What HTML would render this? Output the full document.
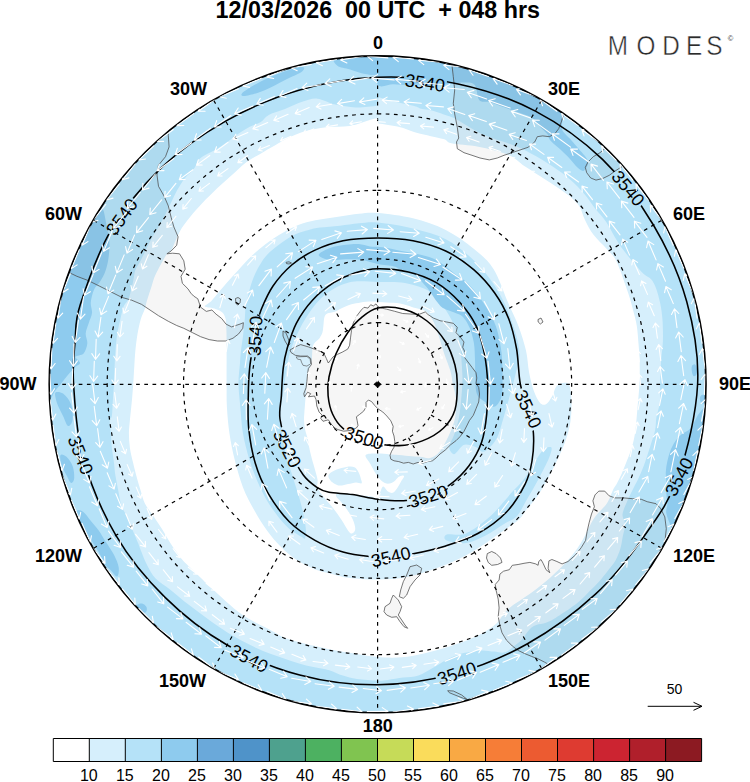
<!DOCTYPE html>
<html lang="en"><head><meta charset="utf-8"><title>MODES 12/03/2026 00 UTC + 048 hrs</title>
<style>html,body{margin:0;padding:0;background:#fff}svg{display:block}</style></head>
<body>
<svg width="750" height="782" viewBox="0 0 750 782" font-family="'Liberation Sans', sans-serif">
<rect width="750" height="782" fill="#fff"/>
<defs><clipPath id="disc"><circle cx="377.6" cy="384.3" r="328"/></clipPath></defs>
<g clip-path="url(#disc)">
<path d="M378.5 123.6C382.1 124.2 393.6 125.7 400.1 127.3C406.6 128.8 410.2 131 417.4 132.9C424.6 134.9 437.7 137.2 443.3 139C449 140.7 445.4 142 451.3 143.3C457.1 144.6 469 144.9 478.4 146.8C487.9 148.7 500.3 151.5 508 154.8C515.7 158 518.3 162 524.7 166.3C531.1 170.5 539.6 175.8 546.4 180.3C553.2 184.7 560.1 189 565.4 193.1C570.8 197.3 575.4 200.7 578.7 205.2C581.9 209.6 582.5 215 585 219.9C587.4 224.9 589.9 230 593.5 234.8C597.1 239.6 602.8 244.6 606.3 248.5C609.9 252.4 612.4 254.4 614.8 258.2C617.1 262 618.9 267.1 620.5 271C622.1 275 622.8 277.7 624.3 282.1C625.8 286.5 628.1 292.7 629.6 297.5C631.1 302.3 632.1 306.3 633.3 311C634.5 315.7 635.9 320.2 636.8 325.9C637.7 331.5 638.1 338.7 638.6 344.8C639.1 351 639.6 356.2 639.7 362.8C639.8 369.3 639.8 376.2 639.4 384.3C639 392.4 637.9 403.2 637.2 411.1C636.5 419.1 636.1 426.2 635.2 432C634.4 437.9 633.5 441.6 632.1 446.4C630.8 451.1 628.7 456.1 627 460.6C625.3 465 623.6 469.4 621.9 473.2C620.2 477 618.3 480.7 616.9 483.4C615.4 486.1 615 485.9 613.3 489.2C611.6 492.6 610 498.8 606.8 503.6C603.6 508.5 598 512.2 593.9 518.4C589.8 524.7 586 534.5 582 541.1C578 547.7 575.1 552.1 569.9 558.1C564.7 564.1 557.1 571.5 550.7 577.2C544.3 583 538.8 587.2 531.7 592.6C524.6 597.9 513.8 604.1 508 609.2C502.2 614.4 500.9 619.3 496.7 623.2C492.6 627.2 487.5 630.2 483.1 632.8C478.7 635.5 476.1 636.6 470.3 639C464.4 641.3 455.5 644.7 448 647C440.5 649.4 432.8 651.4 425 653.2C417.3 654.9 409.4 656.6 401.5 657.3C393.6 657.9 386.3 657.7 377.6 657C368.9 656.3 357.6 654.1 349.4 652.8C341.1 651.5 338 651.3 328 649.1C318.1 646.9 299.3 642.8 289.7 639.6C280.1 636.4 278.3 634.1 270.3 629.9C262.3 625.7 251.2 621.1 241.6 614.3C232 607.5 220.1 595.8 212.8 589.3C205.5 582.7 202.8 579.7 197.9 575C193 570.3 186.9 564.7 183.4 561C180 557.2 179.5 556.2 177 552.6C174.4 549.1 170.8 543.7 168.3 539.7C165.8 535.8 164.5 533.1 162 529.1C159.6 525.2 156.3 520.6 153.5 516.3C150.6 512 147 507.6 144.9 503.4C142.8 499.1 142.1 495.3 140.7 490.8C139.3 486.2 137.7 480.6 136.4 475.9C135.1 471.3 134.2 467.5 133.1 462.8C132 458.1 130.6 452.8 129.9 447.9C129.2 442.9 128.9 437.9 128.9 433.1C129 428.3 129.5 424.9 130 419.1C130.6 413.3 131.6 404.3 132.1 398.5C132.6 392.7 132.8 389.6 133.2 384.3C133.6 379 133.9 371.9 134.3 366.4C134.6 361 134.8 356.9 135.3 351.5C135.8 346.2 136.6 339.5 137.5 334.1C138.4 328.8 139.5 323.7 140.7 319.5C141.9 315.3 143.8 311.9 144.9 308.7C145.9 305.5 145.9 303.9 147 300.4C148.1 296.8 149.9 291.6 151.3 287.3C152.7 283 153.2 279.8 155.6 274.6C158 269.4 163 260 165.6 255.9C168.3 251.9 169.6 253 171.3 250.3C173 247.6 174.1 243.6 175.9 239.9C177.6 236.2 179.4 231.9 181.8 228C184.3 224.1 187.1 220.5 190.5 216.4C193.9 212.3 197.8 208 202.2 203.3C206.6 198.7 212 193.3 216.9 188.6C221.7 184 226.5 179.9 231.4 175.5C236.3 171.1 241.3 165.9 246.3 162.2C251.2 158.5 256.2 156.2 261 153.4C265.7 150.6 270.3 148.1 274.8 145.5C279.3 143 282.9 140.5 288 138.1C293 135.7 298.7 133 305 131.2C311.4 129.4 318.8 128 326.2 127.2C333.6 126.3 342.7 127.1 349.5 126C356.4 124.9 363 122 367.5 120.7C372 119.4 375.1 118.7 376.7 118.3ZM377.6 50.3A334 334 0 1 0 377.6 718.3A334 334 0 1 0 377.6 50.3Z" fill="#d6effc" fill-rule="evenodd"/>
<path d="M378.6 97.2C381.2 97.9 388 100.1 393.9 101.6C399.8 103 409.7 104.8 414.2 106C418.8 107.2 418.3 108 421.2 108.7C424.2 109.5 427.1 109.2 431.8 110.4C436.5 111.7 445 114.6 449.4 116.3C453.8 117.9 452.6 117.3 458.3 120.4C464 123.5 474.3 130.7 483.5 134.8C492.7 139 505.4 142 513.4 145.2C521.4 148.3 524.9 150.1 531.4 153.7C538 157.2 546.3 162.2 552.7 166.5C559.2 170.8 564.6 174.8 570 179.5C575.3 184.1 580.5 189.5 584.8 194.5C589 199.4 591.9 204.5 595.5 209.1C599.1 213.7 602.9 217.2 606.2 221.9C609.4 226.5 612.1 232.5 614.9 237.2C617.7 241.8 619.9 245.3 623.2 249.8C626.6 254.4 631.6 260.2 635 264.3C638.4 268.3 641 271.6 643.7 274.1C646.4 276.6 649.1 276.9 651.1 279.3C653.2 281.7 654.5 284.4 656.1 288.4C657.6 292.4 659.1 298 660.2 303.3C661.3 308.5 662 313.8 662.5 320.1C662.9 326.4 663.1 334.3 662.9 341.2C662.6 348 661.6 353.8 661.1 361C660.7 368.2 660.2 377.4 660 384.3C659.8 391.2 660.4 397 659.8 402.5C659.2 408.1 657.2 412.9 656.4 417.5C655.6 422.2 656.1 425.7 655.1 430.2C654.2 434.8 651.9 440.7 650.7 444.8C649.4 449 648.6 451.6 647.5 455.1C646.3 458.6 645.4 461.6 643.8 465.7C642.2 469.8 639.8 475.6 637.9 479.6C636.1 483.5 634.5 485.9 632.8 489.5C631 493 629.1 496.6 627.4 500.8C625.7 504.9 622.9 510.6 622.5 514.5C622.2 518.5 625.1 520.7 625.1 524.3C625.2 528 623.6 532.4 622.8 536.3C622 540.3 621.7 544.1 620.5 548.1C619.3 552.2 617.6 556.7 615.5 560.4C613.5 564 611.2 566.3 608.4 569.9C605.6 573.5 601.9 578.4 598.7 582C595.5 585.6 592.4 588.4 589.2 591.5C586.1 594.7 582.9 598.2 579.7 601C576.5 603.8 573 606.2 570.2 608.2C567.4 610.2 565.3 611.5 562.9 613.1C560.4 614.7 558.4 616.3 555.6 617.9C552.7 619.6 549.1 621.6 545.9 622.8C542.7 624 539.1 623.9 536.4 625.1C533.6 626.2 531.6 627.4 529.3 629.8C526.9 632.2 524.3 636.9 522 639.5C519.6 642.1 518 643.1 515.2 645.3C512.3 647.4 508.3 651.3 504.9 652.3C501.4 653.4 498.1 651.9 494.4 651.6C490.6 651.3 486.5 650.4 482.4 650.4C478.3 650.4 473.5 651.3 469.7 651.9C466 652.5 464 652.6 460 654C456.1 655.3 450.9 657.5 446.3 659.9C441.8 662.2 437.4 665.4 432.7 668C428.1 670.6 423.4 673.8 418.5 675.4C413.6 677 408.4 676.8 403.3 677.6C398.2 678.3 392.2 679.4 387.9 679.9C383.6 680.4 382.8 680.9 377.6 680.7C372.4 680.5 362.8 679.8 357 679C351.2 678.1 347.5 677.1 342.9 675.6C338.2 674.2 334.2 671.7 329.2 670.2C324.3 668.8 318.4 668.2 313.4 667.1C308.3 666 303.9 664.9 299.1 663.5C294.4 662.1 289.5 660.3 284.7 658.7C279.9 657.1 275.2 655.7 270.3 653.8C265.5 652 260.6 650 255.8 647.8C251.1 645.6 246.6 643.3 241.8 640.8C237.1 638.2 232.2 635.4 227.4 632.4C222.5 629.3 217.4 626 212.6 622.6C207.8 619.2 203.2 615.6 198.4 612C193.6 608.4 188.6 604.8 183.8 601C179 597.2 174.4 593.1 169.7 589.3C165 585.6 159.4 582.6 155.6 578.6C151.9 574.7 149.6 569.9 147.3 565.6C144.9 561.2 143.1 556.2 141.7 552.6C140.2 549 139.8 547.4 138.4 543.8C137 540.3 134.5 534.7 133.1 531.2C131.7 527.7 131 525.2 130 522.7C128.9 520.3 128.3 519.4 126.9 516.5C125.5 513.6 122.8 509.7 121.4 505.4C119.9 501.1 119.3 495.6 118.3 490.7C117.3 485.7 116.2 480.2 115.4 475.6C114.7 471 114.5 467.5 114 462.9C113.4 458.3 112.5 453 111.9 448.1C111.4 443.1 111.2 437.9 110.9 433.3C110.5 428.7 109.6 423.5 109.7 420.5C109.9 417.6 111.4 419.2 111.9 415.5C112.5 411.8 112.6 403.4 113 398.2C113.3 393 113.7 389.6 114 384.3C114.3 379 114.4 371.9 114.6 366.4C114.9 360.9 115.1 356.6 115.5 351.2C115.9 345.8 116.4 339.5 117.2 334.2C118 328.8 119.3 323.8 120.4 319.2C121.5 314.6 122.2 310.2 123.6 306.6C125 303.1 127.3 302.4 128.9 298.2C130.5 293.9 132.1 285.7 133.2 281.1C134.3 276.4 134 273.7 135.3 270.3C136.5 266.8 138.9 264.1 140.7 260.5C142.6 256.9 144.5 252.6 146.4 248.7C148.4 244.8 150.2 240.8 152.4 237C154.6 233.1 157.4 229.3 159.6 225.3C161.8 221.4 163.8 217.3 165.8 213.4C167.7 209.5 169.5 205.8 171.4 201.9C173.3 198 175 194.1 177.2 190.1C179.5 186.2 182.1 181.7 184.8 178.2C187.5 174.8 191.1 172.7 193.5 169.5C195.9 166.3 196.8 161.9 199.2 159.2C201.6 156.6 205.1 155.2 208 153.5C211 151.8 214.1 150.7 217.1 148.9C220 147.2 222.3 145.6 225.7 143.1C229.1 140.7 233.4 137.1 237.3 134.4C241.3 131.7 245.4 128.9 249.3 126.9C253.1 124.9 257.2 124.3 260.4 122.3C263.7 120.3 264.7 117.3 268.8 115C272.9 112.8 279.3 111.3 285 109.1C290.7 106.8 297.5 103.3 302.9 101.6C308.3 99.9 312 98.2 317.4 98.7C322.8 99.2 328.9 103.1 335.3 104.6C341.7 106 348.9 107.2 355.8 107.5C362.7 107.7 373.2 106.2 376.6 106ZM377.6 50.3A334 334 0 1 0 377.6 718.3A334 334 0 1 0 377.6 50.3Z" fill="#b5e2f8" fill-rule="evenodd"/>
<path d="M241.9 93.4C243.6 91.4 250.4 87.1 256.2 83.9C262 80.7 269.4 77.1 276.9 74.3C284.3 71.4 296.6 67.5 300.8 67C305.1 66.4 305.1 69 302.4 71.2C299.7 73.4 290.9 77 284.6 80.2C278.3 83.4 271.1 87.6 264.7 90.2C258.3 92.8 249.9 95.3 246.1 95.8C242.3 96.4 240.3 95.4 241.9 93.4Z" fill="#8ecbee"/>
<path d="M334.7 58.1C331.5 59.8 334.8 63.9 337.4 65.8C339.9 67.7 345.4 68.1 350.1 69.5C354.7 70.9 360.5 73.4 365.1 74.1C369.7 74.7 375.5 76.4 377.6 73.3C379.7 70.2 381.2 58.2 377.6 55.3C374 52.4 363.2 55.5 356.1 56C348.9 56.5 337.8 56.5 334.7 58.1Z" fill="#8ecbee"/>
<path d="M377.6 55.3C374.6 60.1 375 79.5 377.6 84.3C380.2 89.1 388.1 84.1 393.3 84.2C398.6 84.3 403.8 84.9 409.1 84.9C414.4 85 419.7 84.5 425.1 84.5C430.4 84.5 434.7 85.3 441.2 85C447.7 84.6 458.6 82.4 464.2 82.5C469.7 82.5 472.3 82.1 474.8 85.1C477.3 88 476.8 97.3 479.3 100.2C481.8 103 485.6 101 489.9 102.2C494.1 103.4 499.9 105.8 504.9 107.6C509.9 109.4 515.4 111.2 520 113C524.6 114.8 529 115.7 532.5 118.2C536 120.7 538.5 125.1 541 127.8C543.5 130.5 545.9 132.1 547.5 134.3C549.1 136.4 548.3 138.1 550.6 140.8C553 143.5 558.3 147.5 561.5 150.6C564.7 153.6 567.3 156.2 570 159.1C572.6 161.9 575.2 165.7 577.5 167.6C579.8 169.6 582.1 171.6 583.8 170.7C585.6 169.9 588 164.9 588.2 162.4C588.3 159.9 586.4 158.2 584.8 155.8C583.1 153.5 580.5 150.9 578.4 148.4C576.3 145.9 574 143.1 571.9 140.9C569.8 138.6 567.3 136.4 565.7 134.6C564.1 132.9 562.9 132.1 562.3 130.1C561.7 128.1 561.9 125.7 562.1 122.8C562.3 119.9 565.8 116.1 563.5 112.8C561.2 109.6 553.5 106.2 548.4 103.1C543.3 100 538.1 97 532.8 94.2C527.5 91.4 522.2 88.7 516.7 86.2C511.3 83.6 505.8 81.3 500.3 79C494.7 76.8 489.1 74.7 483.4 72.8C477.8 70.9 472 69.1 466.3 67.5C460.5 65.9 454.7 64.4 448.9 63.1C443 61.8 437.1 60.7 431.2 59.7C425.3 58.7 419.4 57.9 413.4 57.3C407.5 56.6 401.5 56.1 395.5 55.8C389.6 55.5 380.6 50.5 377.6 55.3Z" fill="#8ecbee"/>
<path d="M100.1 207.5C102.3 205.5 102.5 208 103.6 211.1C104.6 214.1 105.6 220.9 106.6 225.9C107.5 230.9 108.9 235.9 109.3 241C109.6 246.1 109.3 251.7 108.7 256.6C108.1 261.5 107.1 266.3 105.6 270.5C104.2 274.8 101.8 278.9 99.8 282.1C97.8 285.3 95.4 286.5 93.9 289.9C92.4 293.3 91.1 298.7 90.8 302.6C90.5 306.5 92.4 309.7 92 313.1C91.7 316.5 89.8 319.5 88.8 322.9C87.7 326.3 86 329.9 85.7 333.4C85.5 336.8 87.6 340.2 87.3 343.5C86.9 346.8 85.6 351.2 83.6 353.4C81.7 355.6 76.1 355.2 75.4 356.8C74.8 358.4 80.2 361.1 80 363C79.7 364.8 76.4 365.6 74.1 367.9C71.9 370.2 68.8 374 66.5 376.7C64.2 379.4 62.5 381.9 60.6 384.3C58.7 386.7 56.9 388.4 55 391.1C53 393.7 50.1 401.9 49 400.4C47.9 398.9 48.6 388.1 48.6 382C48.7 375.8 48.9 369.7 49.3 363.5C49.6 357.4 50.2 351.3 50.9 345.2C51.7 339.1 52.6 333 53.6 327C54.7 320.9 55.9 314.9 57.4 308.9C58.8 302.9 60.3 297 62.1 291.1C63.8 285.2 65.7 279.4 67.8 273.6C69.9 267.8 72.1 262.1 74.5 256.4C76.9 250.8 79.4 245.2 82.1 239.7C84.8 234.1 87.7 228.7 90.7 223.3C93.7 218 98 209.6 100.1 207.5Z" fill="#8ecbee"/>
<path d="M705.8 407.2C704.8 405.5 700.8 411.1 698.3 414.6C695.8 418.1 693.7 425 690.8 428.3C688 431.6 683.9 432.3 681.3 434.6C678.6 436.9 676.6 439.4 674.8 442.1C673 444.8 671.7 447.6 670.4 450.8C669.2 454 668.1 457.9 667.3 461.4C666.5 464.9 666 468.3 665.8 471.9C665.6 475.4 666.2 479 666.3 482.6C666.4 486.2 666.1 489.9 666.3 493.4C666.5 496.9 667.5 500.5 667.4 503.8C667.4 507 665.7 509.2 666.2 512.8C666.7 516.4 669.4 522.5 670.5 525.3C671.6 528.1 671.2 531.6 672.8 529.6C674.4 527.5 678 518.6 680.4 513C682.8 507.4 685 501.8 687 496.1C689.1 490.3 691 484.6 692.7 478.8C694.5 473 696.1 467.1 697.5 461.2C698.9 455.3 700.2 449.3 701.3 443.4C702.3 437.4 703.3 431.4 704 425.4C704.8 419.4 706.8 409 705.8 407.2Z" fill="#8ecbee"/>
<path d="M55.7 392.3C57 391.5 60.8 391.8 63.4 393.8C66 395.9 69.6 400.2 71.1 404.6C72.6 409 73.1 416.3 72.6 419.9C72.1 423.5 69.5 426.5 68 426C66.5 425.5 64.9 419.9 63.4 416.8C61.9 413.7 60.1 410.7 58.8 407.6C57.5 404.5 56.2 400.9 55.7 398.4C55.2 395.8 54.4 393.1 55.7 392.3Z" fill="#8ecbee"/>
<path d="M60.4 455.2C61.2 453.7 64.5 455 66.5 456.8C68.5 458.6 71.3 462.4 72.6 466C73.9 469.6 74.5 475.5 74.2 478.3C74 481.1 72.4 483.4 71.1 482.9C69.8 482.4 68 478 66.5 475.2C65 472.4 62.9 469.3 61.9 466C60.9 462.7 59.6 456.7 60.4 455.2Z" fill="#8ecbee"/>
<path d="M77.2 510.5C78.2 509.5 81.1 510.2 83.4 512C85.7 513.8 88.5 518.1 91.1 521.2C93.6 524.3 96.2 526.8 98.7 530.4C101.2 534 103.8 538.6 106.4 542.7C109 546.8 112 550.9 114.1 555C116.1 559.1 118.2 563.7 118.7 567.3C119.2 570.9 118.5 576 117.2 576.5C115.9 577 113 572.4 111 570.4C109 568.4 107 567.3 104.9 564.2C102.9 561.1 101 556.1 98.7 552C96.4 547.9 93.6 543.8 91.1 539.7C88.5 535.6 85.7 531 83.4 527.4C81.1 523.8 78.2 521 77.2 518.2C76.2 515.4 76.2 511.5 77.2 510.5Z" fill="#8ecbee"/>
<path d="M137 605C137.8 603.9 140.4 603.2 142 603.5C143.6 603.8 145.8 605.6 146.5 607C147.2 608.4 146.9 611 146 612C145.1 613 142.4 613.3 141 613C139.6 612.7 138.2 611.3 137.5 610C136.8 608.7 136.2 606.1 137 605Z" fill="#8ecbee"/>
<path d="M692 366C692.5 364.9 694.2 364 695 364.5C695.8 365 696.8 367.3 697 369C697.2 370.7 697.1 373.3 696.5 374.5C695.9 375.7 694.3 376.6 693.5 376C692.7 375.4 692 372.7 691.8 371C691.5 369.3 691.5 367.1 692 366Z" fill="#8ecbee"/>
<path d="M700.5 396C701.2 395.1 702.9 394.2 704 394.5C705.1 394.8 706.7 396.6 707 398C707.3 399.4 706.8 402.1 706 403C705.2 403.9 703 404 702 403.5C701 403 700.2 401.2 700 400C699.8 398.8 699.8 396.9 700.5 396Z" fill="#8ecbee"/>
<path d="M442 532C442.8 531.2 445.3 530.4 447 530.5C448.7 530.6 451.3 531.6 452 532.5C452.7 533.4 452 535.3 451 536C450 536.7 447.4 536.7 446 536.5C444.6 536.3 443.2 535.8 442.5 535C441.8 534.2 441.2 532.8 442 532Z" fill="#8ecbee"/>
<path d="M378 213C387 213.8 401.7 215.5 413 218.3C424.3 221.1 435.6 224.9 445.7 230C455.8 235.1 465.8 242.2 473.7 248.7C481.6 255.1 487.6 259.9 493.3 268.7C499 277.5 503.4 291.9 507.6 301.5C511.8 311.1 515.3 317.8 518.4 326C521.5 334.2 524.2 342.9 526 350.6C527.8 358.3 527.7 365.4 529 372C530.3 378.6 531.9 385.4 533.7 390.5C535.5 395.6 537.9 400.5 539.9 402.8C541.9 405.1 544 405.3 546 404.3C548 403.3 550.2 399.7 552 396.6C553.8 393.5 554.6 388.2 556.7 385.9C558.8 383.6 562.2 382.8 564.4 382.8C566.5 382.8 568.4 382.6 569.6 385.9C570.8 389.2 571.4 396.9 571.5 402.8C571.6 408.7 571.4 415.1 570.5 421.2C569.6 427.3 568 433.5 566 439.6C564 445.7 561.1 451.9 558.3 458C555.5 464.1 552.3 470.2 549 476.4C545.7 482.5 542.1 489.3 538.3 494.9C534.5 500.5 529.3 506 526 510.2C522.7 514.4 522.7 516.2 518.4 520C514.1 523.8 505.9 528.8 500 533C494.1 537.2 489.2 541 483 545C476.8 549 470.7 553.2 463 557C455.3 560.8 446.3 564.7 437 568C427.7 571.3 416.8 575.1 407 577C397.2 578.9 387.5 579.3 378 579.5C368.5 579.7 358 579 350 578C342 577 335.8 574.8 330 573.4C324.2 572 321.1 571.6 315.5 569.4C309.9 567.2 302.5 563.8 296.7 560C290.9 556.2 285.6 551.4 280.6 546.5C275.7 541.6 271.3 536.2 267 530.4C262.7 524.6 259 518.8 255 511.6C251 504.4 246.3 495.9 243 487.4C239.7 478.9 237.2 469.6 234.9 460.6C232.7 451.7 230.8 442.6 229.5 433.7C228.2 424.8 227.4 415.2 226.9 406.9C226.4 398.6 226.7 391.4 226.6 384C226.5 376.6 226.6 369 226.6 362.7C226.6 356.4 226.6 351.8 226.6 346.3C226.6 340.9 226.6 334.6 226.4 330C226.2 325.4 226.3 321.7 225.6 318.8C224.9 315.9 224 314 222.4 312.4C220.8 310.8 218.1 310 216 309.2C213.9 308.4 211.5 308.1 209.6 307.6C207.7 307.1 204.5 307.1 204.8 306C205.1 304.9 208.8 303.6 211.2 301.2C213.6 298.8 216.3 295.1 219.2 291.6C222.1 288.1 225.6 284 228.8 280.4C232 276.8 235.2 273.5 238.4 270C241.6 266.5 244.5 263.1 248 259.6C251.5 256.1 255.2 252.5 259.2 249.2C263.2 245.9 267.5 242.7 272 239.6C276.5 236.5 281.3 233.5 286.4 230.8C291.5 228.1 296.8 225.5 302.4 223.6C308 221.7 313.8 220.8 320 219.6C326.2 218.4 333.3 217.6 339.8 216.6C346.3 215.6 352.6 214.3 359 213.7C365.4 213.1 369 212.2 378 213Z" fill="#d6effc"/>
<path d="M304.8 538.5C304.1 539.6 304.2 538.4 302 537C299.8 535.6 294.9 533.3 291.3 530.4C287.7 527.5 284.6 524.6 280.6 519.7C276.6 514.8 271 507.2 267.2 500.9C263.4 494.6 260.6 488.7 257.7 482C254.8 475.3 252.1 468.7 249.7 460.6C247.2 452.6 244.6 442.6 243 433.7C241.4 424.8 241.1 415.2 240.3 406.9C239.6 398.6 238.6 391.4 238.5 384C238.4 376.6 239.6 368.3 240 362.7C240.4 357.1 240.5 354.8 241 350.4C241.5 345.9 242.4 341.3 243 336C243.6 330.7 244.4 323.5 244.8 318.8C245.2 314.1 245.1 311.3 245.6 307.6C246.1 303.9 247.2 299.9 248 296.4C248.8 292.9 249.3 290.3 250.4 286.8C251.5 283.3 252.9 279.1 254.4 275.6C255.9 272.1 257.3 269.2 259.2 266C261.1 262.8 262.9 259.5 265.6 256.4C268.3 253.3 272 250.3 275.2 247.6C278.4 244.9 281.3 242.7 284.8 240.4C288.3 238.1 292 235.7 296 234C300 232.3 304.8 231.1 308.8 230C312.8 228.9 314.8 228.3 320 227.6C325.2 226.9 333.3 226.4 339.8 225.7C346.3 225 352.6 223.8 359 223.3C365.4 222.8 369 221.7 378 222.6C387 223.5 401.7 225.8 413 228.6C424.3 231.4 436 234.4 445.7 239.3C455.4 244.2 463.9 251.4 471.3 258C478.7 264.6 484.6 271.6 490 279C495.4 286.4 499.9 293.8 504 302.3C508.1 310.9 512.1 321.7 514.7 330.3C517.3 338.9 519.3 346.7 519.5 353.7C519.7 360.7 517.3 366.4 516 372.3C514.7 378.2 513 383.8 511.5 389.4C510 395 508.4 400.6 506.8 406.2C505.2 411.8 503.6 417.8 502 423C500.4 428.2 499.2 433.4 497.2 437.4C495.2 441.4 492.4 444.6 490 447C487.6 449.4 485.2 451.8 482.8 451.8C480.4 451.8 478.4 448.2 475.6 447C472.8 445.8 468.4 444.6 466 444.6C463.6 444.6 463.2 445.4 461.2 447C459.2 448.6 456 454.2 454 454.2C452 454.2 449.2 450.2 449.2 447C449.2 443.8 452.4 439.8 454 435C455.6 430.2 457.6 424.2 458.8 418.2C460 412.2 460.6 406.2 461.2 399C461.8 391.8 462.8 385.2 462.4 375C461.9 364.8 461.1 348 458.5 337.5C455.9 327 451.6 319.6 447 312C442.4 304.4 438 297 431 292.2C424 287.4 413.8 284.7 405 283C396.2 281.3 387.2 282.1 378 282C368.8 281.9 358.3 280.2 349.6 282.2C340.9 284.2 332.4 289 325.6 294.2C318.8 299.4 313.6 306.6 308.8 313.4C304 320.2 300.2 327.4 296.8 335C293.4 342.6 290.7 349 288.4 359C286.1 369 284.2 386.1 282.9 395C281.6 403.9 280.8 405.8 280.6 412.2C280.5 418.6 281.1 426.5 282 433.7C282.9 440.9 284.2 448 286 455.2C287.8 462.4 290.5 469.5 292.7 476.7C294.9 483.9 297.6 491.9 299.4 498.2C301.2 504.5 302.3 508.9 303.4 514.3C304.5 519.7 305.8 526.4 306 530.4C306.2 534.4 305.5 537.4 304.8 538.5Z" fill="#b5e2f8"/>
<path d="M551.2 447.3C552.5 448.3 551.1 452.6 549 458C546.9 463.4 542.1 472.3 538.3 479.5C534.5 486.7 529.6 494.9 526 501C522.4 507.1 520.4 512.5 516.8 516.3C513.2 520.1 509.7 520.5 504.4 523.8C499.1 527 491.6 532.6 485.2 535.8C478.8 539 472.4 542.2 466 543C459.6 543.8 450 542 446.8 540.6C443.6 539.2 443.6 535.8 446.8 534.6C450 533.4 458.8 536.4 466 533.4C473.2 530.4 482.4 523.4 490 516.6C497.6 509.8 505.6 499.3 511.6 492.6C517.6 485.9 521 483.2 526 476.4C531 469.6 537.2 456.8 541.4 451.9C545.6 447 549.9 446.3 551.2 447.3Z" fill="#b5e2f8"/>
<path d="M318.7 255C318.7 253 325.4 249.7 330 248C334.6 246.3 341.2 245.5 346 244.8C350.8 244.1 354.8 243.7 358.8 244C362.8 244.3 366 245.9 370 246.4C374 246.9 377.8 246.5 382.8 247.2C387.8 247.9 394.2 249.6 400 250.7C405.8 251.8 412 252.6 417.4 253.9C422.8 255.2 428.2 256.5 432.6 258.3C437 260.1 439.9 262.3 443.5 264.8C447.1 267.3 450.7 270.8 454.3 273.5C457.9 276.2 461.6 277.9 465.2 281.1C468.8 284.4 472.5 288.5 476.1 293C479.7 297.5 483.7 302.9 487 308.3C490.3 313.8 493.5 319.9 495.7 325.7C497.9 331.5 498.9 337.2 500 343C501.1 348.8 501.8 353.6 502.2 360.4C502.6 367.2 502.5 378.3 502.5 384C502.5 389.7 502.6 391.6 502 394.7C501.4 397.8 500.1 400.7 498.7 402.7C497.2 404.7 495.8 406.9 493.3 406.7C490.9 406.5 486.8 403.5 484 401.3C481.2 399.1 478.1 398 476.7 393.3C475.2 388.6 475.6 378.8 475.3 373.3C475 367.8 475.2 365.4 475 360.4C474.8 355.3 474.8 348.4 473.9 343C473 337.6 471.4 332.1 469.6 327.8C467.8 323.5 465.6 319.5 463 317C460.4 314.5 457.6 314.1 454.3 312.6C451.1 311.2 446.4 310.1 443.5 308.3C440.6 306.5 439.9 305.3 437 301.7C434.1 298.1 430.1 291.2 426.1 286.5C422.1 281.8 417.4 276.4 413 273.5C408.6 270.6 403.2 270.3 400 269.1C396.8 267.9 397.7 267.2 394 266.4C390.3 265.5 383.3 265.1 378 264C372.7 262.9 367.3 260.8 362 260C356.7 259.2 351.3 259.2 346 259.2C340.7 259.2 334.6 260.7 330 260C325.4 259.3 318.7 257 318.7 255Z" fill="#8ecbee"/>
<path d="M372 301.5C376.4 301.5 382.3 302.2 387 302.5C391.7 302.8 395.6 302.7 400 303.5C404.4 304.3 409 306.1 413.2 307.4C417.4 308.6 421.9 308.8 425.2 311C428.5 313.2 430.7 316.6 432.9 320.6C435.1 324.6 436.5 329.4 438.4 335C440.3 340.6 442.4 348.2 444.4 354.2C446.4 360.2 449 366 450.4 371C451.8 376 451.9 379.3 452.8 384C453.7 388.7 455.6 393.3 456 399C456.4 404.7 456.2 412.2 455 418.2C453.8 424.2 451.6 429.4 449 435C446.4 440.6 442.8 448 439.6 451.8C436.4 455.6 433.3 457.2 430 458C426.7 458.8 423.5 457.1 420 456.8C416.5 456.5 412.8 456.4 408.8 456C404.8 455.6 399.2 455 396 454.7C392.8 454.4 392.8 454.6 389.6 454.4C386.4 454.2 380.8 453.5 376.8 453.6C372.8 453.7 366.7 453.5 365.6 455.2C364.5 456.9 368.8 461.1 370.4 464C372 466.9 373.6 470.3 375.2 472.8C376.8 475.3 378.4 477.5 380 479.2C381.6 480.9 383.2 482.2 384.8 482.9C386.4 483.6 388 483.8 389.6 483.5C391.2 483.2 392.9 482.4 394.4 481.3C395.9 480.2 397.1 478.1 398.4 477.1C399.7 476.1 401.5 475.6 402.4 475.5C403.3 475.4 404.3 475.7 404 476.8C403.7 477.9 402 479.9 400.8 481.9C399.6 483.9 398.1 487 396.8 488.8C395.5 490.6 394.3 492.4 392.8 492.8C391.3 493.2 389.6 492.6 388 491.5C386.4 490.4 384.5 486.2 383.2 486.4C381.9 486.6 380.9 490.8 380 492.8C379.1 494.8 379.5 497.8 377.9 498.4C376.3 499 373.5 496.8 370.4 496.3C367.3 495.8 362.9 495.6 359.2 495.2C355.5 494.8 351.5 493.9 348 493.6C344.5 493.3 340 492.8 338 493.2C336 493.6 335.7 494.7 336 496C336.3 497.3 338.5 499.1 340 500.8C341.5 502.5 343.2 504.3 344.8 506.4C346.4 508.5 348.1 511.1 349.6 513.6C351.1 516.1 352.7 518.9 353.6 521.6C354.5 524.3 355.5 527.6 355.2 529.6C354.9 531.6 353.2 533.5 352 533.6C350.8 533.7 349.7 532.7 348 530.4C346.3 528.1 344 523.6 341.6 520C339.2 516.4 336.3 512.3 333.6 508.8C330.9 505.3 328.3 502.7 325.6 499.2C322.9 495.7 318.9 491.2 317.6 488C316.3 484.8 318 482.9 317.6 480C317.2 477.1 316.1 473.9 315.2 470.4C314.3 466.9 312.9 462.7 312 459.2C311.1 455.7 310.3 452.8 309.6 449.6C308.9 446.4 308.7 443.3 308 440C307.3 436.7 305.9 433.3 305.2 430C304.5 426.7 304.1 423 304 420C303.9 417 304.3 414.2 304.4 412C304.5 409.8 304.6 409.6 304.8 406.9C305 404.2 305.4 399.4 305.7 395.7C306 392 306.4 388.2 306.7 384.5C307 380.8 307 376.4 307.6 373.3C308.2 370.2 309.7 368.4 310.4 365.9C311.1 363.4 311.6 360.9 311.9 358.4C312.2 355.9 312.1 353.1 312.3 350.9C312.5 348.7 312.6 346.9 313.2 345.3C313.8 343.8 314.9 342.8 316 341.6C317.1 340.4 318.6 339.4 319.7 337.9C320.8 336.3 321.9 334.5 322.5 332.3C323.1 330.1 323.2 327.3 323.5 324.8C323.8 322.3 323.8 319.2 324.4 317.3C325 315.4 325.5 314.5 327.2 313.6C328.9 312.7 332.2 312.6 334.7 311.7C337.2 310.8 339.3 309.2 342.1 308C344.9 306.8 348.4 305.2 351.5 304.3C354.6 303.4 357.4 302.9 360.8 302.4C364.2 301.9 367.6 301.5 372 301.5Z" fill="#fff"/>
<path d="M328.8 474.4C330 472.8 333.9 470.9 336.8 469.6C339.7 468.4 343.5 467.3 346.4 466.9C349.3 466.5 352.4 466.3 354.4 467.2C356.4 468.1 357.3 470.1 358.4 472C359.5 473.9 360.3 476.5 360.8 478.4C361.3 480.3 362.4 482.5 361.6 483.2C360.8 483.9 358.3 482.3 356 482.4C353.7 482.5 350.7 483.5 348 484C345.3 484.5 342.4 485.7 340 485.6C337.6 485.5 335.3 484.3 333.6 483.2C331.9 482.1 330.4 480.7 329.6 479.2C328.8 477.7 327.6 476 328.8 474.4Z" fill="#d6effc"/>
<path d="M361.3 310 L364 307.3 L368 308.1 L370.7 304.7 L373.3 306 L376 303.9 L377.9 306.5 L381.3 308.1 L386.7 309.2 L394.7 311.3 L402.7 313.5 L410.7 314 L418.7 314.5 L425.3 311.9 L428 314.5 L433.3 318 L440 320.7 L446.7 322 L453.3 323.3 L457.3 327.3 L456 332.7 L460 336.7 L464 342 L462.7 347.3 L465.3 352.7 L464 356.7 L468 362 L472 367.3 L476 372.7 L476.8 378 L476 383.3 L478.7 387.3 L479.5 394 L478.7 402 L476 408.7 L473.3 415.3 L469.3 420.7 L466.7 426 L464 431.3 L460 436.7 L456 440.7 L450.7 444.7 L445.3 450 L440 454 L436 458 L432.4 460.8 L427.6 461.6 L422.8 463.2 L418 462.4 L413.2 464 L408.4 462.4 L403.6 463.2 L398.8 461.6 L394 460.8 L390.8 459.2 L390 455.2 L391.6 451.2 L394 447.2 L394.8 441.6 L394 436 L392.4 431.2 L393.2 426.4 L390.8 420.8 L386.8 416 L382.8 412 L378 408.8 L374.8 405.6 L371.6 401.6 L368.4 400 L366 402.4 L366 407.2 L363.6 411.2 L359.6 414.4 L356.4 416.8 L357.2 420.8 L358 425.6 L356.4 428 L350 430.5 L343.6 431.2 L338 429.6 L333.2 427.2 L334.5 427.5 L331.4 424.4 L328.3 419.8 L323 421.3 L320.7 418.3 L322.2 415.2 L319.1 412.1 L316.8 406 L316.1 399.8 L314.5 396 L308.4 396.8 L310.7 393.7 L307.6 392.2 L304.5 396.8 L303.8 393.7 L306.1 387.6 L306.9 381.4 L307.6 373.7 L308.4 368.4 L311.5 364.5 L310.7 358.4 L307.6 356.1 L300.7 356.1 L295.3 355.3 L291 352.5 L290 350 L295.3 346.9 L300.7 344.6 L308.4 346.9 L314.5 349.2 L322.2 352.2 L323.7 353 L326.3 358.4 L328.3 363 L331 359.5 L333 356.9 L337.5 354.3 L342.2 352.2 L347.7 349.1 L349.6 345.3 L350.5 337.9 L351.5 330.4 L353.3 322.9 L357.1 315.5ZM283 331 L286 333 L288 338 L290 344 L288 346 L285 341 L283 336ZM168.3 135.6 L169.1 146.9 L165.5 156.7 L158.5 165.2 L157 175 L158.5 186.3 L164.1 196.1 L168.3 205.9 L171.1 217.2 L173.9 227 L178.1 236.9 L176.7 245.3 L171.1 251 L166.9 253.8 L172.5 253.2 L179.5 253.8 L183.8 260.8 L185.2 269.2 L181 276.3 L182.4 283.3 L188 288.9 L190.8 293.1 L193.6 296 L197.8 298.8 L200.6 307.2 L206.3 311.4 L211.9 310 L216.1 314.2 L221.7 318.5 L226 324.1 L231.6 326.9 L240 324.1 L243.4 322.7 L242.8 328.3 L238.6 333.9 L233 338.2 L226 341 L217.5 341 L209.1 339.6 L200.6 336.7 L192.2 332.5 L183.8 328.3 L176.7 325.5 L168.3 321.3 L158.5 315.7 L150 310 L141.6 304.4 L131.7 300.2 L121.9 297.4 L110.6 291.7 L99.4 286.1 L88.1 280.5 L76.9 276.3 L69.8 272.9 L55 265 L100 100 L168 120ZM235.5 298.5 L238 297.5 L240.5 299 L240 303 L237.5 305 L235.8 303ZM286 262.3 L289 261.8 L291.5 263 L289 264 L286.5 263.6ZM452 65.5 L453.3 76.7 L454.7 90 L453.3 103.3 L454.7 114 L457.3 127.3 L458.7 138 L456.5 142 L457.3 148.7 L464 152.7 L472 155.3 L480 158 L489.3 159.9 L497.3 158 L504 155.3 L512 152.7 L520 150 L528 147.3 L534.7 142 L537.3 136.7 L542.7 135.9 L549.3 136.7 L554.7 134 L558.7 128.7 L561.3 122 L563.2 115.3 L566 112 L580 95 L500 40 L450 50ZM605 148.5 L600 152.7 L593.3 156.7 L588 162 L585.3 167.3 L586.7 172.7 L590.7 178 L596 180.1 L602.7 178.5 L609.3 175.3 L614.7 171.3 L623 166 L634 158 L616 138ZM538 319.5 L541 318 L543 322 L540.3 324 L538.2 322ZM664.8 543 L666.3 528.7 L664.8 516.9 L660.4 508.1 L656 503.7 L647.2 501.7 L641.3 499.3 L632.5 498.7 L623.7 497.9 L614.9 497.9 L609.1 495.8 L604.7 491.1 L598.8 491.1 L595 494.9 L592.9 500.8 L594.4 506.7 L591.5 514 L589.1 522.8 L587.1 531.6 L585.6 540.4 L581.2 547.7 L575.3 555.1 L568 561.5 L562.1 563.9 L556.9 561.5 L551.9 559.5 L548.9 560.9 L548.1 568.3 L549.8 572.7 L546 569.7 L543.1 563.3 L541 559.5 L538.7 561.5 L538.1 565.3 L535.7 563.9 L529.9 562.4 L524 563.3 L518.1 564.5 L512.3 565.3 L509.3 569.7 L503.5 571.2 L499.9 574.1 L499.1 580 L495.3 584.4 L496.1 590.3 L498.2 599.1 L499.1 607.9 L498.2 616.7 L499.9 625.5 L502 632.8 L506.4 640.1 L512.3 646 L518.1 650.4 L524 653.3 L531.3 656.3 L538.7 659.2 L544.5 662.1 L548.6 664.5 L568 681.2 L685.3 558ZM487.3 553.6 L491.7 551.5 L496.1 553.6 L500.5 558 L502 562.4 L497.6 564.5 L491.7 565.3 L488.2 562.4 L486.5 558ZM410 566.7 L416.7 565 L421.7 568.3 L420 575 L415 580 L410 586.7 L406.7 595 L403.3 598.3 L399.3 596.7 L400.7 590 L403.3 581.7 L406.7 575ZM393.3 595 L398.3 600 L401.7 606.7 L400 611.7 L398.3 615 L401.7 620 L405 625 L407.7 628.3 L404 626.7 L400 621.7 L396.7 616.7 L391.7 617.3 L386.7 615 L384 611.7 L385 606.7 L390 603.3 L391.7 598.3ZM447.7 690.7 L453.3 691 L461.7 695 L466.7 699 L463.3 698.3 L455 695 L449.3 692.7Z" fill="#000" fill-opacity=".034" stroke="#4a4a4a" stroke-width=".75" stroke-linejoin="round"/>
<path d="M296.1 356.9 L306.9 356.5 L310.2 359.2 L310.7 363.8 L306.9 366.1 L303 365.3 L301.5 362.2 L300.7 359.6 L297.6 359.2Z" fill="none" stroke="#4a4a4a" stroke-width=".6"/>
<path d="M377.6 322.6A61.7 61.7 0 1 1 377.6 446A61.7 61.7 0 1 1 377.6 322.6M377.6 258.8A125.5 125.5 0 1 1 377.6 509.8A125.5 125.5 0 1 1 377.6 258.8M377.6 190.3A194 194 0 1 1 377.6 578.3A194 194 0 1 1 377.6 190.3M377.6 113.9A270.4 270.4 0 1 1 377.6 654.7A270.4 270.4 0 1 1 377.6 113.9M377.6 384.3L377.6 56.3M408.5 330.9L541.6 100.2M431 353.4L661.7 220.3M377.6 384.3L705.6 384.3M431 415.1L661.7 548.3M408.5 437.7L541.6 668.4M377.6 384.3L377.6 712.3M346.8 437.7L213.6 668.4M324.2 415.2L93.5 548.3M377.6 384.3L49.6 384.3M324.2 353.4L93.5 220.3M346.8 330.9L213.6 100.2" fill="none" stroke="#000" stroke-width="1.2" stroke-dasharray="3.7 4.5"/>
<path d="M377.6 380.8l3.5 3.5l-3.5 3.5l-3.5 -3.5z" fill="#000" stroke="#000" stroke-width=".6" stroke-linejoin="round"/>
<mask id="lab" maskUnits="userSpaceOnUse" x="0" y="0" width="750" height="782"><rect width="750" height="782" fill="#fff"/><rect x="-21.5" y="-9" width="43" height="18" fill="#000" transform="translate(425 82.7) rotate(9)"/><rect x="-21.5" y="-9" width="43" height="18" fill="#000" transform="translate(628.3 188.3) rotate(50)"/><rect x="-21.5" y="-9" width="43" height="18" fill="#000" transform="translate(679 476.7) rotate(-62)"/><rect x="-21.5" y="-9" width="43" height="18" fill="#000" transform="translate(456.7 673.3) rotate(-18)"/><rect x="-21.5" y="-9" width="43" height="18" fill="#000" transform="translate(249.2 658.3) rotate(28)"/><rect x="-21.5" y="-9" width="43" height="18" fill="#000" transform="translate(80.8 455) rotate(68)"/><rect x="-21.5" y="-9" width="43" height="18" fill="#000" transform="translate(121.7 216.7) rotate(-54)"/><rect x="-21.5" y="-9" width="43" height="18" fill="#000" transform="translate(528.3 409) rotate(65)"/><rect x="-21.5" y="-9" width="43" height="18" fill="#000" transform="translate(390.8 556.7) rotate(-13)"/><rect x="-21.5" y="-9" width="43" height="18" fill="#000" transform="translate(255.2 336) rotate(-87)"/><rect x="-21.5" y="-9" width="43" height="18" fill="#000" transform="translate(428.2 496.2) rotate(-17)"/><rect x="-21.5" y="-9" width="43" height="18" fill="#000" transform="translate(287.3 448.5) rotate(63)"/><rect x="-21.5" y="-9" width="43" height="18" fill="#000" transform="translate(364 437.8) rotate(18)"/></mask>
<g mask="url(#lab)" fill="none" stroke="#000" stroke-width="1.55">
<path d="M377.6 77.3C404.2 76.3 431.8 78.3 458.1 83.9C484.4 89.5 511.3 98.5 535.4 111.1C559.4 123.7 582.8 140.4 602.5 159.4C622.1 178.4 639.4 201.4 653.4 225C667.5 248.7 679.3 274.9 686.7 301.5C694.1 328 699 355.2 697.6 384.3C696.2 413.4 687.4 450.7 678.4 476.3C669.3 501.8 657 517.9 643.1 537.6C629.3 557.3 614.5 576.7 595.2 594.4C575.9 612.1 550.8 630.7 527.5 643.8C504.1 657 480.1 666.8 455.1 673.6C430.1 680.4 403.5 684.6 377.6 684.8C351.7 685 324.8 681.7 299.7 675C274.6 668.4 249.6 658 227.1 645C204.6 632 183.3 615.4 164.8 597.1C146.2 578.9 129.5 558.6 115.9 535.4C102.3 512.2 90.2 482.9 83.1 457.7C76.1 432.5 74.9 403.6 73.6 384.3C72.3 365 74 355.1 75.1 341.8C76.2 328.5 74.3 323.2 80.3 304.6C86.3 286.1 97.5 253.2 111 230.4C124.5 207.6 142.1 186.1 161.2 167.9C180.3 149.7 202.7 134.1 225.6 121.1C248.6 108.2 273.5 97.5 298.8 90.2C324.1 82.9 351 78.3 377.6 77.3Z"/>
<path d="M378 237.9C389.7 237.9 401.7 238.6 413 240.7C424.3 242.9 435.6 246.2 445.7 251C455.8 255.8 465.5 262.7 473.7 269.7C481.8 276.7 488.8 284.8 494.7 293C500.5 301.2 505 309.3 508.7 318.7C512.3 328 514.6 338.1 516.6 349C518.5 359.9 518.4 373.9 520.3 384C522.3 394.1 526.1 401.5 528.3 409.7C530.4 417.8 532.8 424.4 533.4 433C534 441.6 533.4 452.4 532 461C530.6 469.6 529.3 475.8 525 484.3C520.7 492.9 514.1 504.2 506.3 512.3C498.5 520.5 488.4 527.7 478.3 533.3C468.2 538.9 456.9 542.4 445.7 545.9C434.4 549.4 419.8 552.5 410.7 554.3C401.6 556.2 397.7 556.7 391.1 557.1C384.5 557.5 379 557.5 371 556.7C363 555.8 352.3 554.7 343 552C333.7 549.3 323.9 545.4 315 540.3C306.1 535.3 297.1 529.4 289.3 521.7C281.6 513.9 274 503.4 268.3 493.7C262.7 483.9 258.5 474.2 255.3 463.3C252 452.4 249.9 439.6 248.7 428.3C247.6 417.1 248.1 405.8 248.3 395.7C248.4 385.6 248.8 376.2 249.7 367.7C250.5 359.1 252.2 351.3 253.4 344.3C254.6 337.3 255.3 331.5 256.7 325.7C258 319.8 258.6 315.9 261.3 309.3C264.1 302.7 267.9 293.4 273 286C278.1 278.6 284.7 271 291.7 265C298.7 259 306.4 254.1 315 250.1C323.6 246 332.5 242.8 343 240.7C353.5 238.7 366.3 237.9 378 237.9Z"/>
<path d="M378 268.7C386.9 268.6 398.6 269.7 408.3 272C418.1 274.3 427.8 277.7 436.3 282.7C444.9 287.8 453.1 295.2 459.7 302.3C466.3 309.5 471.9 317.1 476 325.7C480.1 334.2 482.4 343.9 484.4 353.7C486.3 363.4 487.3 373.9 487.7 384C488 394.1 487.7 404.6 486.7 414.3C485.7 424.1 484.5 433.8 481.6 442.3C478.6 450.9 474.2 458.7 469 465.7C463.8 472.7 457.1 479.3 450.3 484.3C443.6 489.4 436.2 493.3 428.4 496C420.6 498.7 412.1 500.1 403.7 500.7C395.3 501.2 386.6 500.3 378 499.3C369.4 498.2 360.5 495.8 352.3 494.6C344.2 493.4 334.8 493.4 329 492.3C323.2 491.1 321.6 490.5 317.3 487.6C313.1 484.7 308 481.4 303.3 475C298.7 468.6 293.2 458.7 289.3 449.3C285.4 440 281.3 427.9 280 419C278.7 410.1 280.9 404.2 281.4 395.7C281.9 387.1 282.3 375.4 283.3 367.7C284.2 359.9 284.8 356.4 287 349C289.2 341.6 292.1 331.5 296.3 323.3C300.6 315.2 306.4 306.8 312.7 300C318.9 293.2 326.7 287.2 333.7 282.7C340.7 278.2 347.3 275.3 354.7 272.9C362.1 270.6 369.1 268.9 378 268.7Z"/>
<path d="M378 307.9C385 306.6 395.5 307.2 403.7 309.3C411.8 311.5 420 315.6 427 321C434 326.4 441 334.6 445.7 342C450.3 349.4 453.1 358.3 455 365.3C456.9 372.3 457.3 376.6 457.3 384C457.3 391.4 457.3 402.3 455 409.7C452.7 417.1 448.8 423.1 443.3 428.3C437.9 433.5 429.7 438.1 422.3 440.9C414.9 443.8 408.3 445.6 399 445.6C389.7 445.6 375.7 443.8 366.3 440.9C357 438.1 348.6 432.8 343 428.3C337.4 423.9 335.2 419.8 332.7 414.3C330.2 408.9 328.7 401.9 328.1 395.7C327.4 389.4 327.7 384 329 377C330.3 370 332.9 361.1 336 353.7C339.1 346.3 343.4 338.7 347.7 332.7C351.9 326.6 356.6 321.4 361.7 317.3C366.7 313.1 371 309.3 378 307.9Z"/>
</g>
<g font-size="18" text-anchor="middle">
<text transform="translate(425 82.7) rotate(9)" y="6.4">3540</text>
<text transform="translate(628.3 188.3) rotate(50)" y="6.4">3540</text>
<text transform="translate(679 476.7) rotate(-62)" y="6.4">3540</text>
<text transform="translate(456.7 673.3) rotate(-18)" y="6.4">3540</text>
<text transform="translate(249.2 658.3) rotate(28)" y="6.4">3540</text>
<text transform="translate(80.8 455) rotate(68)" y="6.4">3540</text>
<text transform="translate(121.7 216.7) rotate(-54)" y="6.4">3540</text>
<text transform="translate(528.3 409) rotate(65)" y="6.4">3540</text>
<text transform="translate(390.8 556.7) rotate(-13)" y="6.4">3540</text>
<text transform="translate(255.2 336) rotate(-87)" y="6.4">3540</text>
<text transform="translate(428.2 496.2) rotate(-17)" y="6.4">3520</text>
<text transform="translate(287.3 448.5) rotate(63)" y="6.4">3520</text>
<text transform="translate(364 437.8) rotate(18)" y="6.4">3500</text>
</g>
</g>
<circle cx="377.6" cy="384.3" r="328.3" fill="none" stroke="#000" stroke-width="1.8"/>
<g clip-path="url(#disc)">
<path d="M387.8 57.9L367.4 56.3M372.6 60.6L367.4 56.3L373.2 52.8M413.5 58.9L393 57.3M398.3 61.6L393 57.3L398.9 53.8M439 62L418.6 60.3M423.8 64.6L418.6 60.3L424.4 56.9M464.2 67L443.8 65.3M449 69.6L443.8 65.3L449.6 61.9M488.4 76.5L469 69.7M473 75.2L469 69.7L475.6 67.9M512.5 85.4L493.1 78.6M497.1 84.1L493.1 78.6L499.7 76.8M535.8 96.2L516.5 89.4M520.4 94.9L516.5 89.4L523 87.5M556.9 111.3L540.2 99.3M542.5 105.7L540.2 99.3L547 99.4M578.2 125.6L561.6 113.6M563.8 120L561.6 113.6L568.4 113.7M598.4 141.5L581.8 129.5M584 135.9L581.8 129.5L588.6 129.6M616.3 160.1L601.6 145.8M602.9 152.5L601.6 145.8L608.3 146.9M632.7 179.9L620.1 163.7M620.4 170.5L620.1 163.7L626.6 165.7M648.6 200.1L636 183.9M636.4 190.7L636 183.9L642.5 185.9M662.9 221.4L650.3 205.2M650.6 212L650.3 205.2L656.8 207.2M673.2 245.2L665 226.3M663.7 233L665 226.3L670.8 229.9M684 268.5L675.8 249.7M674.4 256.3L675.8 249.7L681.6 253.2M692.9 292.6L684.7 273.8M683.3 280.4L684.7 273.8L690.5 277.3M697.1 318.1L694.4 297.7M691.3 303.8L694.4 297.7L699 302.8M702.1 343.3L699.4 322.9M696.3 329L699.4 322.9L704 328M705.1 368.8L702.5 348.5M699.3 354.5L702.5 348.5L707 353.5M704.4 394.6L705.2 374M701.1 379.5L705.2 374L708.9 379.8M701.5 421.1L706.1 398.9M701.2 403.5L706.1 398.9L708.8 405.1M698.7 445.5L702.9 425.4M697.9 430.1L702.9 425.4L705.5 431.7M693.7 470.7L697.9 450.6M692.9 455.3L697.9 450.6L700.5 456.9M683.8 494.4L693.8 476.4M687.7 479.4L693.8 476.4L694.5 483.2M674.8 518.4L685 500.6M678.8 503.5L685 500.6L685.6 507.4M664 541.7L674.2 523.9M668.1 526.8L674.2 523.9L674.9 530.7M650 563.1L663.2 547.4M656.6 549.2L663.2 547.4L662.6 554.2M635.7 584.5L648.9 568.8M642.4 570.5L648.9 568.8L648.3 575.6M619.8 604.6L633 589M626.4 590.7L633 589L632.4 595.7M601.1 622.2L616.8 609.1M610.1 609.7L616.8 609.1L615.1 615.7M581.8 639.2L598.4 627.1M591.6 627.2L598.4 627.1L596.2 633.5M561.6 655.1L578.2 643M571.4 643.1L578.2 643L576 649.4M540.3 669.3L556.9 657.2M550.1 657.4L556.9 657.2L554.6 663.7M516.7 679.7L535.6 671.9M529 670.4L535.6 671.9L532 677.7M493.3 690.5L512.3 682.7M505.7 681.2L512.3 682.7L508.6 688.4M469.2 699.4L488.2 691.6M481.6 690.1L488.2 691.6L484.5 697.3M443.8 703.9L464.1 701M458.1 697.9L464.1 701L459.2 705.6M418.6 708.9L438.9 706M432.9 702.9L438.9 706L434 710.7M393.1 712L413.4 709M407.4 706L413.4 709L408.5 713.7M367.3 711.6L387.9 711.4M382.3 707.6L387.9 711.4L382.3 715.4M341.7 709.2L362.1 711.8M357.1 707.2L362.1 711.8L356.1 714.9M316.2 706.2L336.6 708.7M331.6 704.2L336.6 708.7L330.6 711.9M291 701.2L311.4 703.7M306.4 699.2L311.4 703.7L305.4 706.9M267 691.6L286 699.4M282.3 693.7L286 699.4L279.3 700.9M242.9 682.7L261.9 690.5M258.2 684.8L261.9 690.5L255.2 692M219.6 671.9L238.5 679.8M234.9 674L238.5 679.8L231.9 681.2M198.5 657L214.8 669.5M212.7 663L214.8 669.5L208 669.2M177.1 642.8L193.4 655.3M191.4 648.8L193.4 655.3L186.6 655M157 626.9L173.2 639.4M171.2 632.9L173.2 639.4L166.4 639.1M138.9 608.5L153.5 622.9M152.3 616.2L153.5 622.9L146.8 621.7M122.4 588.8L135.2 604.8M134.8 598.1L135.2 604.8L128.6 602.9M106.5 568.6L119.3 584.7M118.9 577.9L119.3 584.7L112.7 582.7M92.2 547.2L105 563.3M104.6 556.5L105 563.3L98.5 561.4M82.1 523.4L90.1 542.3M91.5 535.7L90.1 542.3L84.3 538.7M71.3 500.1L79.3 519M80.7 512.3L79.3 519L73.5 515.4M62.4 476L70.4 494.9M71.8 488.2L70.4 494.9L64.6 491.2M56.8 450.8L62.1 470.6M64.4 464.2L62.1 470.6L56.9 466.2M53.1 425.3L55.7 445.7M58.9 439.6L55.7 445.7L51.2 440.6M50.1 399.8L52.7 420.1M55.9 414.1L52.7 420.1L48.1 415.1M49.9 374.1L50.9 394.5M54.5 388.8L50.9 394.5L46.7 389.2M51.8 348.4L51.1 368.9M55.1 363.5L51.1 368.9L47.3 363.2M55.9 323L53 343.3M57.6 338.3L53 343.3L49.9 337.2M60.9 297.8L58 318.1M62.7 313.1L58 318.1L54.9 312M70.3 273.7L62.5 292.7M68.2 289L62.5 292.7L61 286M79.2 249.6L71.4 268.6M77.1 264.9L71.4 268.6L69.9 261.9M90 226.3L82.1 245.2M87.9 241.6L82.1 245.2L80.7 238.6M105.7 204.5L91.5 222.2M98 220.3L91.5 222.2L92 215.4M119.3 184L106.5 200M113 198.1L106.5 200L106.9 193.2M135.2 163.8L122.4 179.8M128.9 177.9L122.4 179.8L122.8 173M153.7 145.9L138.8 160M145.5 159L138.8 160L140.1 153.3M173.4 129.5L156.8 141.5M163.6 141.4L156.8 141.5L159 135.1M193.6 113.6L177 125.6M183.8 125.5L177 125.6L179.2 119.2M214.9 99.3L198.3 111.3M205.1 111.2L198.3 111.3L200.6 104.9M238.5 88.8L219.6 96.8M226.3 98.2L219.6 96.8L223.2 91M261.8 78L242.9 86M249.6 87.4L242.9 86L246.5 80.2M285.9 69.1L267 77.1M273.7 78.5L267 77.1L270.7 71.3M311.3 64.5L291.1 67.8M297.2 70.7L291.1 67.8L296 63M336.5 59.5L316.3 62.8M322.4 65.7L316.3 62.8L321.2 58M363.1 56.3L340.7 59.9M346.9 62.9L340.7 59.9L345.6 55.2M394.2 79.9L371.6 78.1M376.9 82.4L371.6 78.1L377.5 74.6M418.2 81.3L395.6 79.4M400.8 83.8L395.6 79.4L401.4 76M441.9 84.5L419.3 82.7M424.6 87L419.3 82.7L425.2 79.2M464.3 89.5L443.8 87.8M449.1 92.2L443.8 87.8L449.7 84.4M486.7 99L467.3 92.2M471.3 97.7L467.3 92.2L473.9 90.4M510.1 108L488.7 100.5M492.6 106L488.7 100.5L495.2 98.7M530.6 118.1L511.3 111.3M515.2 116.8L511.3 111.3L517.8 109.5M550.9 133.4L532.5 120.1M534.7 126.6L532.5 120.1L539.3 120.2M570.6 147.1L552.2 133.8M554.4 140.2L552.2 133.8L559 133.9M589.1 162.2L570.7 149M573 155.4L570.7 149L577.5 149.1M603.5 180.3L591 164.1M591.3 170.9L591 164.1L597.5 166.1M619.5 198.2L606.9 182M607.3 188.8L606.9 182L613.4 184M634 217.3L621.4 201.1M621.8 207.8L621.4 201.1L627.9 203.1M647 237.4L634.4 221.2M634.7 228L634.4 221.2L640.9 223.2M656.1 259.9L648 241M646.6 247.7L648 241L653.8 244.6M665.5 281.2L657.9 263.6M656.6 270L657.9 263.6L663.4 267M673.3 303.6L665.9 286.5M664.6 292.7L665.9 286.5L671.3 289.8M677 327.7L674.5 308.8M671.5 314.5L674.5 308.8L678.8 313.5M681.3 351.6L678.7 332M675.6 338L678.7 332L683.2 337M683.7 375.8L681 355.5M677.9 361.6L681 355.5L685.6 360.6M680.8 399.7L685 379.6M680 384.2L685 379.6L687.7 385.8M679.4 423.6L683.6 403.5M678.7 408.2L683.6 403.5L686.3 409.8M676.2 447.4L680.4 427.3M675.5 431.9L680.4 427.3L683.1 433.5M670.9 471.9L675.5 449.7M670.6 454.3L675.5 449.7L678.2 455.9M661.2 492.6L671.4 474.8M665.3 477.7L671.4 474.8L672 481.6M652.5 515L662.7 497.2M656.6 500L662.7 497.2L663.3 503.9M642.1 536.6L652.3 518.8M646.2 521.6L652.3 518.8L652.9 525.5M628.9 555.8L641.4 541M635 542.6L641.4 541L640.8 547.5M615.6 575.1L627.4 561.1M621.3 562.7L627.4 561.1L626.8 567.3M600.4 593.6L612.2 579.7M606.2 581.2L612.2 579.7L611.6 585.8M582.3 609.3L597.1 598.6M590.9 598.7L597.1 598.6L595.1 604.4M564.3 625.4L579.3 614.4M573 614.6L579.3 614.4L577.3 620.4M545 640.1L560.5 628.8M554 628.9L560.5 628.8L558.4 634.9M524.6 652.8L540.5 642M534 641.9L540.5 642L538.2 648.1M503 662.2L519.9 655.3M513.8 653.9L519.9 655.3L516.6 660.5M480.2 672.2L498.8 664.6M492.2 663.1L498.8 664.6L495.1 670.3M457.4 680.2L476.4 672.4M469.7 670.9L476.4 672.4L472.7 678.1M433.8 683.8L453.6 681M447.5 677.9L453.6 681L448.6 685.6M410.8 688L429.3 685.3M423.7 682.5L429.3 685.3L424.7 689.7M387.1 690.4L405.4 687.8M399.8 684.9L405.4 687.8L400.8 692.1M363.2 688.5L381.4 690.7M376.7 686.6L381.4 690.7L375.9 693.7M339.1 687.1L357.6 689.4M352.9 685.2L357.6 689.4L352 692.4M315 683.8L334.2 686.2M329.3 681.8L334.2 686.2L328.4 689.3M291.6 678.3L310.7 681.5M306 676.9L310.7 681.5L304.8 684.4M269.2 669.3L287.2 676.7M283.6 671.2L287.2 676.7L280.7 678.2M246.9 660.6L264.8 668M261.2 662.5L264.8 668L258.4 669.4M225.3 650.2L243.2 657.6M239.6 652.1L243.2 657.6L236.8 659M205.8 635.9L221.2 647.7M219.2 641.4L221.2 647.7L214.6 647.4M186.1 622.3L201.5 634.1M199.6 627.8L201.5 634.1L194.9 633.8M167.6 607.1L182.9 618.9M180.9 612.6L182.9 618.9L176.4 618.6M152.1 589L163.8 603.8M163.5 597.4L163.8 603.8L157.7 602M136.2 571.2L147.8 585.9M147.4 579.5L147.8 585.9L141.7 584M121.4 551.8L133.5 567.1M133.1 560.5L133.5 567.1L127.2 565.2M108.5 531.1L120.5 547.5M120.3 540.7L120.5 547.5L114.1 545.3M99.2 508.7L107.1 527.6M108.6 521L107.1 527.6L101.4 524M89.5 486.8L97.5 505.7M98.9 499L97.5 505.7L91.7 502M81.6 464.1L89.6 483M91 476.4L89.6 483L83.8 479.4M78.2 440.2L80.8 460.6M84 454.5L80.8 460.6L76.2 455.5M73.9 416.6L76.5 437M79.7 430.9L76.5 437L72 431.9M71.5 392.8L74.1 413.1M77.3 407.1L74.1 413.1L69.6 408.1M72.7 368.7L71.9 389.2M76 383.8L71.9 389.2L68.2 383.5M74 343.7L73.3 366.4M77.4 360.9L73.3 366.4L69.6 360.7M78.5 320L75.3 342.5M79.9 337.5L75.3 342.5L72.2 336.4M83.6 296.6L80.4 319.1M85 314.1L80.4 319.1L77.3 313M93.2 274.4L84.5 295.4M90.3 291.7L84.5 295.4L83.1 288.7M101.9 252.1L93.2 273M99 269.4L93.2 273L91.8 266.4M112.3 230.5L103.7 251.4M109.4 247.8L103.7 251.4L102.2 244.8M126.5 212.2L113.6 228.2M120.2 226.3L113.6 228.2L114.1 221.4M140.2 192.5L127.3 208.5M133.8 206.6L127.3 208.5L127.8 201.7M155.3 174L142.5 190M149 188.1L142.5 190L142.9 183.2M173.8 158.6L157.2 170.7M164 170.6L157.2 170.7L159.4 164.3M191.6 142.7L175.2 154.6M182 154.5L175.2 154.6L177.4 148.2M210.6 128.2L194.3 140.1M201.1 140L194.3 140.1L196.5 133.7M230.9 115.5L214.4 126.9M221.2 127L214.4 126.9L216.7 120.6M252.9 106L234.6 113.7M241.2 115.1L234.6 113.7L238.2 108M274.6 96.4L256.8 104M263.2 105.3L256.8 104L260.3 98.4M297.1 88.6L279.5 96M285.9 97.4L279.5 96L283 90.5M320.9 84.7L302.1 87.7M307.9 90.5L302.1 87.7L306.8 83.2M345.2 80.3L325 83.6M331.1 86.5L325 83.6L329.8 78.8M369.1 77.9L348.8 81.2M355 84.1L348.8 81.2L353.7 76.4M398.8 101.4L382.2 100M386.5 103.6L382.2 100L387.1 97.1M421.3 103.3L404.1 101.9M408.6 105.6L404.1 101.9L409.2 98.9M443.4 106.9L425.9 105.5M430.5 109.3L425.9 105.5L431.1 102.5M464.8 114.5L447.8 108.6M451.4 113.5L447.8 108.6L453.7 106.9M486.3 121.6L468.7 115.5M472.4 120.6L468.7 115.5L474.8 113.8M506.9 130.3L489.2 124.1M492.9 129.3L489.2 124.1L495.3 122.4M526.4 140.5L509.2 134.4M512.8 139.5L509.2 134.4L515.2 132.7M544 154.4L529.5 144M531.5 149.7L529.5 144L535.6 144.1M561.8 167.5L547.6 157.3M549.6 162.9L547.6 157.3L553.6 157.4M578.6 182L564.6 172M566.5 177.5L564.6 172L570.4 172M592.5 199.7L582 186.1M582.2 191.9L582 186.1L587.6 187.8M607 216.8L596.3 203M596.6 208.9L596.3 203L601.9 204.8M620 234.9L609.3 221.1M609.6 227.1L609.3 221.1L614.9 222.9M629.6 255.1L622.7 239.1M621.5 244.9L622.7 239.1L627.7 242.2M639.4 274.5L632.9 259.5M631.8 265L632.9 259.5L637.6 262.4M647.5 294.4L641.6 280.9M640.6 285.8L641.6 280.9L645.9 283.5M654.3 315.7L648.3 302.1M647.3 307L648.3 302.1L652.6 304.7M657.4 338.2L655.4 323M653 327.6L655.4 323L658.9 326.9M660.8 360.7L658.7 344.6M656.1 349.5L658.7 344.6L662.4 348.7M662.4 383.2L660.2 366.5M657.6 371.6L660.2 366.5L664.1 370.8M659.5 405.5L662.9 388.9M658.7 392.8L662.9 388.9L665.2 394.2M657.6 427.8L661.1 410.9M656.8 415L661.1 410.9L663.4 416.3M653.9 449.9L657.5 432.9M653.2 436.9L657.5 432.9L659.8 438.3M648.6 471.7L652.2 454.4M647.8 458.5L652.2 454.4L654.5 459.9M638.9 492L647.8 476.4M642.3 479L647.8 476.4L648.4 482.5M630.2 512.6L639.2 496.9M633.6 499.5L639.2 496.9L639.8 503M619.3 531L629.6 518M624.2 519.6L629.6 518L629.3 523.7M607.7 549.4L617.7 537.6M612.6 538.9L617.7 537.6L617.2 542.8M594.6 567.2L604.3 555.7M599.4 557L604.3 555.7L603.9 560.8M580.1 584L589.7 572.6M584.8 573.9L589.7 572.6L589.2 577.6M563 598.4L575.1 589.5M570 589.6L575.1 589.5L573.4 594.4M545.9 612.8L558.1 603.8M553 603.9L558.1 603.8L556.5 608.7M527.5 626L540.3 616.6M534.9 616.7L540.3 616.6L538.6 621.7M507.9 635.7L521.8 630M516.8 628.9L521.8 630L519 634.3M488.1 645.6L501.6 640.1M496.8 639L501.6 640.1L498.9 644.2M466.5 654.4L481.9 648.1M476.4 646.8L481.9 648.1L478.9 652.8M445.2 661.2L460.8 654.8M455.2 653.5L460.8 654.8L457.7 659.6M423.9 664.2L438.7 662M434.2 659.7L438.7 662L435 665.5M402.3 667.4L416.2 665.4M411.9 663.3L416.2 665.4L412.7 668.7M380.1 669L393.9 667.1M389.7 664.9L393.9 667.1L390.4 670.3M357.7 667L371.7 668.8M368.2 665.6L371.7 668.8L367.5 671M335.3 665.1L349.8 666.9M346.1 663.6L349.8 666.9L345.4 669.3M313 661.5L328 663.3M324.2 659.9L328 663.3L323.5 665.7M291.9 654.2L305.9 660M303.1 655.6L305.9 660L300.8 661.1M270.7 647.1L284.7 652.9M281.9 648.6L284.7 652.9L279.7 654.1M250.1 638.5L264.2 644.3M261.4 639.9L264.2 644.3L259.1 645.4M230.3 628.2L244.4 634.1M241.6 629.7L244.4 634.1L239.4 635.2M212.3 614.7L224.6 624.1M223 619.1L224.6 624.1L219.3 623.9M194.3 601.4L206.6 610.9M205.1 605.9L206.6 610.9L201.4 610.7M177.5 586.9L189.7 596.3M188.2 591.3L189.7 596.3L184.5 596M163.3 569.8L172.6 581.6M172.3 576.5L172.6 581.6L167.7 580.2M148.9 552.7L158.3 564.7M158 559.5L158.3 564.7L153.3 563.2M135.6 534.3L145.6 546.9M145.3 541.4L145.6 546.9L140.3 545.3M125.8 513.8L132.3 529.2M133.5 523.7L132.3 529.2L127.5 526.2M115.8 493.8L122.4 509.4M123.6 503.8L122.4 509.4L117.5 506.3M107.2 472.8L114.1 489.1M115.4 483.2L114.1 489.1L109 485.9M100.3 451.2L107.5 468.2M108.8 462L107.5 468.2L102.2 464.8M97.6 428.6L100 447.3M103 441.7L100 447.3L95.7 442.6M94.2 406.2L96.7 425.7M99.8 419.8L96.7 425.7L92.2 420.7M92.6 383.8L95.1 403.7M98.3 397.6L95.1 403.7L90.6 398.6M94.3 361.3L93.6 381.5M97.7 376.1L93.6 381.5L89.9 375.8M96.2 339.2L95.5 359.3M99.6 353.8L95.5 359.3L91.8 353.6M100.9 317.3L98.1 337.1M102.7 332.1L98.1 337.1L95 331M108.6 296.4L101 314.8M106.7 311.1L101 314.8L99.6 308.2M115.7 275.1L108 293.7M113.7 290.1L108 293.7L106.5 287.1M124.2 254.9L116.8 272.9M122.4 269.3L116.8 272.9L115.3 266.4M134.5 235.1L127 253.1M132.6 249.5L127 253.1L125.6 246.6M148.5 217.6L136.5 232.6M142.8 230.8L136.5 232.6L136.9 226.1M161.6 199.9L149.8 214.5M156 212.7L149.8 214.5L150.3 208.1M175.9 183.4L164.7 197.3M170.5 195.6L164.7 197.3L165.1 191.2M193 169.7L179.3 179.6M185.1 179.5L179.3 179.6L181.2 174.2M209.8 155.5L196.6 165.1M202.2 165L196.6 165.1L198.4 159.8M228 142.4L214.6 152.1M220.3 152.1L214.6 152.1L216.5 146.8M247.9 132.6L232.9 138.9M238.3 140.1L232.9 138.9L235.9 134.2M267.7 122.6L252.9 128.9M258.3 130L252.9 128.9L255.8 124.3M288.1 114.3L273.8 120.4M279 121.5L273.8 120.4L276.6 115.9M309.2 107.6L295.2 113.6M300.3 114.6L295.2 113.6L297.9 109.2M331.7 104.3L316.2 106.8M321 109.1L316.2 106.8L320 103.1M354.5 100.8L337.4 103.6M342.7 106.1L337.4 103.6L341.6 99.4M376.9 99.1L359.4 102M364.9 104.6L359.4 102L363.8 97.8M385.3 122.3L373.6 121.4M376.7 123.9L373.6 121.4L377 119.4M409.5 123.6L397.1 122.6M400.3 125.3L397.1 122.6L400.7 120.5M433.5 127.1L420.4 126M423.8 128.8L420.4 126L424.3 123.7M456.5 134.3L443.8 129.8M446.5 133.6L443.8 129.8L448.2 128.6M479.1 142L466.5 137.5M469.1 141.2L466.5 137.5L470.9 136.3M500.3 151.4L489 147.4M491.4 150.7L489 147.4L492.9 146.3M520.1 164.3L510.9 157.7M512.2 161.3L510.9 157.7L514.8 157.8M539.9 177.8L530.7 171.2M531.9 174.8L530.7 171.2L534.5 171.2M639.3 361.9L637.8 350.7M636 354.1L637.8 350.7L640.4 353.5M640.8 385.8L639.3 374.5M637.5 377.9L639.3 374.5L641.9 377.4M638.1 409.7L640.5 398.3M637.6 401L640.5 398.3L642.1 402M635.2 433.4L637.6 422.1M634.8 424.8L637.6 422.1L639.2 425.7M630.2 456.8L632.6 445.4M629.7 448.1L632.6 445.4L634.1 449.1M621.3 479.2L627.3 468.7M623.6 470.4L627.3 468.7L627.7 472.8M612 501.5L618.3 490.5M614.4 492.3L618.3 490.5L618.6 494.8M599.9 521.9L608 512.3M603.9 513.4L608 512.3L607.6 516.6M587 541.8L594.9 532.5M590.9 533.6L594.9 532.5L594.5 536.6M572.3 560.4L580 551.4M576.1 552.4L580 551.4L579.6 555.4M555 576.7L564.5 569.8M560.5 569.9L564.5 569.8L563.2 573.6M537 592.5L546.6 585.5M542.6 585.6L546.6 585.5L545.3 589.4M517.7 606.6L527.3 599.6M523.3 599.7L527.3 599.6L526 603.4M496.8 617.5L507.3 613.2M503.5 612.4L507.3 613.2L505.2 616.5M206.1 583.3L215.1 590.2M213.9 586.5L215.1 590.2L211.2 590M188.3 567.2L197.4 574.2M196.2 570.5L197.4 574.2L193.5 574M173.1 548.6L180.2 557.6M180 553.7L180.2 557.6L176.5 556.5M158.5 529.5L165.8 538.8M165.6 534.8L165.8 538.8L162 537.6M147.1 508.5L151.7 519.4M152.5 515.4L151.7 519.4L148.3 517.2M136.2 487.1L140.9 498.2M141.7 494.2L140.9 498.2L137.4 496M127.2 464.6L132.2 476.3M133.1 472.1L132.2 476.3L128.5 474M120.3 441.4L125.5 453.8M126.5 449.3L125.5 453.8L121.6 451.3M117.3 416.9L119.1 431.3M121.4 427L119.1 431.3L115.8 427.7M114.6 392.5L116.7 408.3M119.2 403.5L116.7 408.3L113 404.3M115.6 368.3L115 384.7M118.3 380.2L115 384.7L111.9 380M117.3 344.5L116.8 360.8M120.1 356.4L116.8 360.8L113.8 356.2M122.1 321.2L119.9 337M123.6 333L119.9 337L117.4 332.2M130.2 298.6L124 313.4M128.6 310.5L124 313.4L122.9 308.1M138.3 276.2L132.2 290.9M136.8 288L132.2 290.9L131 285.6M148.4 254.8L142.5 269M146.9 266.2L142.5 269L141.3 263.9M162.3 235.4L152.8 247.3M157.7 245.8L152.8 247.3L153.1 242.1M175.9 216.3L166.9 227.5M171.6 226.2L166.9 227.5L167.2 222.6M191.3 198.5L182.8 209.1M187.2 207.8L182.8 209.1L183.1 204.5M209.5 183.4L199 191.1M203.4 191L199 191.1L200.4 186.9M228 168.6L217.7 176M222.1 176L217.7 176L219.2 172M247.8 155.5L237.9 162.7M242 162.6L237.9 162.7L239.2 158.8M269.4 145.5L258.3 150.1M262.3 151L258.3 150.1L260.5 146.7M291.1 136.2L280.5 140.7M284.3 141.5L280.5 140.7L282.6 137.4M313.8 128.9L303.3 133.3M307.1 134.1L303.3 133.3L305.4 130M337.6 124.9L326.2 126.8M329.7 128.5L326.2 126.8L329 124.1M361.4 121.8L349.8 123.7M353.4 125.5L349.8 123.7L352.6 120.9M552.2 389.8L555.6 401M556.9 397.2L555.6 401L552.5 398.6M549 413.6L552 427.2M553.8 422.8L552 427.2L548.5 424M544 437.7L543.3 451.6M546.2 447.8L543.3 451.6L540.8 447.6M535.8 459.4L530.9 475.9M535.5 472.3L530.9 475.9L529 470.3M524.7 481.8L515.1 496.1M520.6 494L515.1 496.1L515 490.3M508.8 501.2L498.4 515M504 513.2L498.4 515L498.6 509.2M491.6 519.6L477.8 530M483.6 529.8L477.8 530L479.6 524.4M471.6 535.5L455.5 541.7M461.2 543.1L455.5 541.7L458.8 536.8M447.5 547.7L434 550.9M438.4 552.6L434 550.9L437.1 547.4M423.4 555L409.9 558.2M414.3 559.9L409.9 558.2L413 554.7M398.7 559.9L384.8 560.8M388.8 563.3L384.8 560.8L388.5 557.9M373.4 561.7L359.6 559.5M363 562.8L359.6 559.5L363.9 557.4M348.2 559.2L334.8 555.3M337.8 559L334.8 555.3L339.3 553.8M323.7 553L310.9 547.7M313.4 551.7L310.9 547.7L315.5 546.6M299.9 544.2L288.6 536M290.2 540.4L288.6 536L293.4 536M277 532.1L268.9 521.2M269 525.8L268.9 521.2L273.3 522.6M219.9 307.7L223.8 294.3M220.1 297.2L223.8 294.3L225.3 298.8M232.4 285.3L238.1 274M234.3 276L238.1 274L238.8 278.2M247.5 265.1L255.7 255.9M251.6 256.8L255.7 255.9L255.2 260M265.9 247.7L275.1 239.9M271 240.2L275.1 239.9L274.1 243.9M286.6 233.2L296.6 226.8M292.6 226.6L296.6 226.8L295.1 230.5M373.7 228.4L393.4 230M388.2 225.7L393.4 230L387.6 233.4M400.1 231.7L419.2 233.2M414.2 229.1L419.2 233.2L413.6 236.5M425.8 237.2L444 242.9M440 237.8L444 242.9L437.8 244.9M450.8 246.7L466.1 256.9M463.8 251.1L466.1 256.9L459.8 257.1M474.9 262.3L484.5 272.4M483.8 267.7L484.5 272.4L479.8 271.5M493.9 281.7L502 290.9M501.5 286.8L502 290.9L498 289.9M529 403.2L532.4 416.7M534.1 412.2L532.4 416.7L528.8 413.6M524.5 428.5L523.8 442.4M526.7 438.6L523.8 442.4L521.3 438.4M515.4 452.8L511.4 466.1M515.1 463.2L511.4 466.1L509.9 461.6M502.6 475.5L494.9 487.1M499.3 485.4L494.9 487.1L494.8 482.4M486.2 496.2L475 504.6M479.8 504.4L475 504.6L476.5 500.1M466 513.6L453 518.6M457.6 519.8L453 518.6L455.7 514.7M442.8 526.4L429.3 529.7M433.7 531.4L429.3 529.7L432.4 526.2M417.7 534.3L404.1 537.5M408.5 539.2L404.1 537.5L407.3 534M391.8 539.5L377.9 539.2M381.7 542L377.9 539.2L381.8 536.5M365.4 539.5L351.6 537.2M355 540.5L351.6 537.2L355.9 535.1M339.2 535.6L326.3 530.2M328.9 534.2L326.3 530.2L331 529.2M313.9 527.3L302.7 519.1M304.2 523.5L302.7 519.1L307.4 519.2M292 517.7L279.6 501.2M279.8 508L279.6 501.2L286.1 503.3M269.9 500.5L262.1 483.7M261 489.9L262.1 483.7L267.5 486.9M252.1 478.1L246.6 465.3M245.7 470L246.6 465.3L250.6 467.8M237.6 455L235.3 442.6M233.5 446.5L235.3 442.6L238.3 445.6M226.3 351.5L228.2 340.1M225.4 342.9L228.2 340.1L229.9 343.6M234.4 327.7L237.5 314.2M234 317.3L237.5 314.2L239.3 318.5M244.7 305.8L252.6 290M247.3 292.9L252.6 290L253.5 296M258.9 285.6L271.4 269.1M264.9 271.2L271.4 269.1L271.1 275.9M277.2 266.9L292.5 252.9M285.7 253.8L292.5 252.9L291 259.5M298.4 251.6L315.9 240.4M309.1 240.1L315.9 240.4L313.3 246.7M321.7 239.4L341.4 232.8M334.9 230.9L341.4 232.8L337.3 238.3M347.2 231.2L367.4 229.6M361.5 226.2L367.4 229.6L362.1 234M366.7 249.6L389.9 251.5M384.6 247.1L389.9 251.5L384 254.9M392.8 252.3L416 254.2M410.7 249.9L416 254.2L410.1 257.6M418.4 257.5L440.5 264.5M436.4 259.1L440.5 264.5L434 266.5M442.8 267L462.1 279.9M459.7 273.6L462.1 279.9L455.4 280.1M464.9 281.6L480.4 298.9M479.6 292.1L480.4 298.9L473.8 297.3M484.2 301.5L494.2 319.7M494.9 312.9L494.2 319.7L488.1 316.7M498.8 323.7L504.1 343.8M506.4 337.4L504.1 343.8L498.9 339.4M507.8 348.6L510 369.2M513.3 363.3L510 369.2L505.5 364.1M509.6 376.3L513.1 393.7M515.5 388.2L513.1 393.7L508.7 389.6M506.6 404.4L510.7 417.7M512.1 413.2L510.7 417.7L507 414.8M502.2 429.3L499.6 443M503 439.7L499.6 443L497.7 438.7M491.7 453.1L485.1 465.3M489.3 463.2L485.1 465.3L484.6 460.6M476.6 474.4L466.8 484.3M471.4 483.5L466.8 484.3L467.6 479.6M457.5 492.6L445.2 499.2M449.9 499.7L445.2 499.2L447.3 494.9M434.9 506.7L421.3 509.6M425.7 511.4L421.3 509.6L424.5 506.1M410 515.2L396.1 516.1M400.1 518.5L396.1 516.1L399.7 513.1M383.8 518.9L370 517.2M373.5 520.4L370 517.2L374.2 515M356.5 516.3L345.2 514.4M347.9 517.1L345.2 514.4L348.7 512.7M332.1 509.1L319.4 506M322.4 509.4L319.4 506L323.6 504.4M307.9 499.8L297.5 490.5M298.6 495.1L297.5 490.5L302.2 491M286.6 487.9L278.4 468.9M277.1 475.5L278.4 468.9L284.2 472.4M267.9 468.2L264.1 447.8M261.3 454L264.1 447.8L269 452.6M255.7 445L251.9 424.6M249.1 430.8L251.9 424.6L256.7 429.4M246.4 419.6L246.1 399.8M242.4 405.4L246.1 399.8L250.1 405.3M243.4 393.4L244.3 373.8M240.3 379.1L244.3 373.8L247.9 379.5M245 367.4L248.1 347.7M243.4 352.5L248.1 347.7L251.1 353.8M252.5 342.7L256.1 322.3M251.3 327.1L256.1 322.3L259 328.4M262.3 318.8L271.2 300M265.3 303.4L271.2 300L272.4 306.8M276.6 297L290.4 281.5M283.8 283.1L290.4 281.5L289.6 288.2M295.1 278.3L312.6 267.1M305.8 266.8L312.6 267.1L310 273.4M317.2 263.7L336.9 257.2M330.4 255.2L336.9 257.2L332.8 262.6M340.6 253.9L363.8 252.1M357.9 248.6L363.8 252.1L358.5 256.4M375.1 271.2L395.7 273.4M390.6 268.9L395.7 273.4L389.8 276.7M401.5 273.4L420.7 280.8M416.8 275.1L420.7 280.8L414.1 282.4M425.6 280.7L444.1 294.7M442 288.2L444.1 294.7L437.3 294.5M446.9 295.8L464.3 311.2M462.7 304.6L464.3 311.2L457.5 310.4M465.5 314.2L478.8 333.2M478.8 326.4L478.8 333.2L472.4 330.9M480.2 336L486.9 358.2M489 351.8L486.9 358.2L481.6 354M488 361L490.5 384.1M493.8 378.1L490.5 384.1L486.1 379M489.3 387L488.6 410.2M492.7 404.8L488.6 410.2L484.9 404.6M484.5 413.7L480.8 434.1M485.6 429.4L480.8 434.1L478 427.9M474 441L467.4 453.2M471.6 451.1L467.4 453.2L466.8 448.5M458.6 461.9L448.8 471.8M453.4 471L448.8 471.8L449.6 467.1M438.8 478.9L426.5 485.5M431.2 486L426.5 485.5L428.6 481.3M415.4 491L401.7 493.5M406 495.5L401.7 493.5L405 490.2M389.1 496.8L376.5 496.1M379.9 498.8L376.5 496.1L380.2 493.9M314.5 478.1L304.5 469.1M305.5 473.5L304.5 469.1L309 469.7M294.1 461.6L287.4 449.4M286.9 454.1L287.4 449.4L291.6 451.5M279.5 442.9L273.8 424.2M271.7 430.5L273.8 424.2L279 428.3M267.4 419.3L268.7 398.6M264.4 403.9L268.7 398.6L272.2 404.4M264.8 393.3L265.8 372.6M261.7 378L265.8 372.6L269.4 378.4M266.6 367.3L270.7 347M265.8 351.7L270.7 347L273.4 353.2M274.3 342.5L281.4 323M275.8 326.9L281.4 323L283.1 329.6M286.5 319.6L298.4 302.6M292 305L298.4 302.6L298.4 309.4M303.6 300L319.6 286.9M312.8 287.4L319.6 286.9L317.8 293.4M325.2 285.7L343.4 275.7M336.7 274.9L343.4 275.7L340.4 281.8M349.2 275.3L369.6 271.6M363.4 268.8L369.6 271.6L364.8 276.5M372.9 293.1L386.8 293.9M383 290.9L386.8 293.9L382.8 296.4M398.7 296L411.9 299.5M408.9 296L411.9 299.5L407.6 301.1M422.9 306.3L434.2 311.9M432.2 308.1L434.2 311.9L430 312.5M443.1 321.3L452.3 331.7M451.8 327L452.3 331.7L447.7 330.6M457.8 340.3L464.5 356.9M465.9 351L464.5 356.9L459.4 353.6M466.6 363.8L469 383.3M472.2 377.4L469 383.3L464.5 378.4M468.1 389.5L466.3 409.3M470.6 404.2L466.3 409.3L462.9 403.5M464.1 416.3L454.5 431.8M460.2 429.3L454.5 431.8L454.2 425.6M449.8 442.4L439.7 448.5M443.7 448.8L439.7 448.5L441.4 444.8M431 460.2L418.7 463.6M422.8 465.1L418.7 463.6L421.4 460.3M407.3 471.9L394.8 472.2M398.4 474.6L394.8 472.2L398.2 469.7M355.8 471.4L344 470.2M347 472.9L344 470.2L347.5 468.3M310.2 447.3L304.8 436.9M304.3 440.9L304.8 436.9L308.3 438.8M296.1 426.7L292 413.4M290.6 417.9L292 413.4L295.8 416.3M286.9 402L287.8 388.1M284.9 391.8L287.8 388.1L290.3 392.1M287.3 376.1L288.8 362.3M285.6 365.8L288.8 362.3L291 366.4M293.5 351.1L298.3 338M294.4 340.7L298.3 338L299.5 342.6M306.4 328.9L314.4 317.4M310 319.1L314.4 317.4L314.4 322.2M325.2 310.9L335.5 302.5M331 302.8L335.5 302.5L334.3 306.8M348 299.4L360.3 293.6M355.8 292.8L360.3 293.6L358 297.7M378.7 314.9L383.5 315.1M382 313.9L383.5 315.1L381.8 316.2M403.7 319.9L408.1 322M407.1 320.3L408.1 322L406.1 322.3M425.3 333.6L428.5 337.3M428.3 335.3L428.5 337.3L426.6 336.8M440.3 354.3L442.1 358.8M442.6 356.9L442.1 358.8L440.4 357.7M446.6 379L447.2 383.8M448.2 382L447.2 383.8L445.9 382.3M444.6 404.6L442 408.7M443.9 407.9L442 408.7L441.9 406.7M432.9 427.6L428.7 430.1M430.7 430.3L428.7 430.1L429.5 428.3M413.5 444.6L408.7 445.6M410.6 446.4L408.7 445.6L410.1 444.1M308.5 376.8L309.3 372M307.9 373.4L309.3 372L310.2 373.8M316.4 352.6L317.9 348M316.3 349.1L317.9 348L318.5 349.9M354.2 320.2L357.5 316.6M355.5 317L357.5 316.6L357.2 318.6M376 337.6L380.2 335.1M378.2 335L380.2 335.1L379.4 337M399.8 341.9L404.2 344.1M403.2 342.4L404.2 344.1L402.2 344.4M418.5 358.5L420.3 363M420.7 361.1L420.3 363L418.6 361.9M425.8 382.4L425.3 387.2M426.6 385.7L425.3 387.2L424.3 385.5M421 407.5L416.8 410M418.8 410.1L416.8 410L417.6 408.1M403.5 425.6L398.8 426.6M400.6 427.4L398.8 426.6L400.1 425.1M355.3 426.7L351.1 424.4M351.9 426.2L351.1 424.4L353 424.2M336.4 410.2L335.2 405.5M334.5 407.3L335.2 405.5L336.7 406.8M329.5 386.2L329.8 381.4M328.5 382.9L329.8 381.4L330.8 383.1M335.6 362.2L337 357.6M335.5 358.8L337 357.6L337.7 359.5M352.9 344.6L355.2 340.4M353.4 341.3L355.2 340.4L355.4 342.4M377.9 360L380.3 355.7M378.5 356.6L380.3 355.7L380.5 357.7M397.6 367.2L400.8 370.8M400.6 368.8L400.8 370.8L398.9 370.4M405.4 391.2L400.7 392.2M402.5 393L400.7 392.2L402.1 390.7M390.1 409.1L385.3 408.5M386.8 409.8L385.3 408.5L387.1 407.6M366.9 408.6L362.6 406.3M363.5 408.1L362.6 406.3L364.6 406.1M351.3 391.1L351.6 386.3M350.4 387.9L351.6 386.3L352.7 388M357.2 368.9L358.6 364.3M357 365.5L358.6 364.3L359.2 366.2M377.1 381.6L378.5 376.9M376.9 378.2L378.5 376.9L379.1 378.8" fill="none" stroke="#fff" stroke-width="1.1" stroke-linecap="round" stroke-linejoin="round"/>
</g>
<text x="377.8" y="17.8" font-size="23.3" font-weight="700" text-anchor="middle" xml:space="preserve">12/03/2026  00 UTC  + 048 hrs</text>
<g font-size="19" font-weight="700">
<text transform="translate(378 49) scale(.95 1)" text-anchor="middle">0</text>
<text transform="translate(377.7 732) scale(.95 1)" text-anchor="middle">180</text>
<text transform="translate(207 94.8) scale(.95 1)" text-anchor="end">30W</text>
<text transform="translate(82 219.5) scale(.95 1)" text-anchor="end">60W</text>
<text transform="translate(36.5 390.3) scale(.95 1)" text-anchor="end">90W</text>
<text transform="translate(82 561.8) scale(.95 1)" text-anchor="end">120W</text>
<text transform="translate(206 686.8) scale(.95 1)" text-anchor="end">150W</text>
<text transform="translate(548 94.8) scale(.95 1)" text-anchor="start">30E</text>
<text transform="translate(673 219.5) scale(.95 1)" text-anchor="start">60E</text>
<text transform="translate(719 390.3) scale(.95 1)" text-anchor="start">90E</text>
<text transform="translate(673 561.8) scale(.95 1)" text-anchor="start">120E</text>
<text transform="translate(548 686.8) scale(.95 1)" text-anchor="start">150E</text>
</g>
<text transform="translate(0 55.2) scale(0.9 1)" x="675.2 707.3 735.8 762.2 784.6" y="0" font-size="27" fill="#2b2b2b" stroke="#fff" stroke-width="0.45" paint-order="fill stroke">MODES</text>
<text x="730.4" y="40.6" font-size="7.5" fill="#333" text-anchor="middle">©</text>
<text x="674.5" y="694.3" font-size="14" text-anchor="middle">50</text>
<path d="M647.7 706.3H701.5M693.5 702.3L702 706.3L693.5 710.3" fill="none" stroke="#000" stroke-width="1"/>
<rect x="53.3" y="738.5" width="36.3" height="23" fill="#ffffff"/>
<rect x="89.3" y="738.5" width="36.3" height="23" fill="#d6effc"/>
<rect x="125.3" y="738.5" width="36.3" height="23" fill="#b5e2f8"/>
<rect x="161.4" y="738.5" width="36.3" height="23" fill="#8ecbee"/>
<rect x="197.4" y="738.5" width="36.3" height="23" fill="#6aa9da"/>
<rect x="233.4" y="738.5" width="36.3" height="23" fill="#4f93c9"/>
<rect x="269.4" y="738.5" width="36.3" height="23" fill="#4ea18e"/>
<rect x="305.4" y="738.5" width="36.3" height="23" fill="#4db161"/>
<rect x="341.4" y="738.5" width="36.3" height="23" fill="#80c450"/>
<rect x="377.5" y="738.5" width="36.3" height="23" fill="#c6db58"/>
<rect x="413.5" y="738.5" width="36.3" height="23" fill="#fadc5b"/>
<rect x="449.5" y="738.5" width="36.3" height="23" fill="#f9a944"/>
<rect x="485.5" y="738.5" width="36.3" height="23" fill="#f67d37"/>
<rect x="521.5" y="738.5" width="36.3" height="23" fill="#ec5b31"/>
<rect x="557.5" y="738.5" width="36.3" height="23" fill="#de3b31"/>
<rect x="593.6" y="738.5" width="36.3" height="23" fill="#cc2431"/>
<rect x="629.6" y="738.5" width="36.3" height="23" fill="#b01f2b"/>
<rect x="665.6" y="738.5" width="36" height="23" fill="#8c1a22"/>
<path d="M53.3 738.5H701.6V761.5H53.3ZM89.3 738.5V761.5M125.3 738.5V761.5M161.4 738.5V761.5M197.4 738.5V761.5M233.4 738.5V761.5M269.4 738.5V761.5M305.4 738.5V761.5M341.4 738.5V761.5M377.5 738.5V761.5M413.5 738.5V761.5M449.5 738.5V761.5M485.5 738.5V761.5M521.5 738.5V761.5M557.5 738.5V761.5M593.6 738.5V761.5M629.6 738.5V761.5M665.6 738.5V761.5" fill="none" stroke="#000" stroke-width="1"/>
<g font-size="16" text-anchor="middle">
<text x="88.8" y="780.6">10</text>
<text x="124.8" y="780.6">15</text>
<text x="160.9" y="780.6">20</text>
<text x="196.9" y="780.6">25</text>
<text x="232.9" y="780.6">30</text>
<text x="268.9" y="780.6">35</text>
<text x="304.9" y="780.6">40</text>
<text x="340.9" y="780.6">45</text>
<text x="377" y="780.6">50</text>
<text x="413" y="780.6">55</text>
<text x="449" y="780.6">60</text>
<text x="485" y="780.6">65</text>
<text x="521" y="780.6">70</text>
<text x="557" y="780.6">75</text>
<text x="593.1" y="780.6">80</text>
<text x="629.1" y="780.6">85</text>
<text x="665.1" y="780.6">90</text>
</g>
</svg>
</body></html>
